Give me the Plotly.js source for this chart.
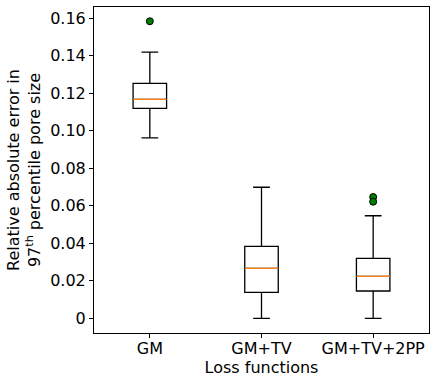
<!DOCTYPE html>
<html>
<head>
<meta charset="utf-8">
<script src="https://cdn.plot.ly/plotly-3.0.1.min.js"></script>
<style>html,body{margin:0;padding:0;background:#fff;}#chart{width:435px;height:381px;}</style>
</head>
<body>
<div id="chart"></div>
<script>
// ---- data ----
const categories = ["GM", "GM+TV", "GM+TV+2PP"];
const positions = [1, 2, 3];
const lowerWhisker = [0.0962, 0.0, 0.0];
const q1 = [0.1120, 0.0139, 0.0146];
const medians = [0.1168, 0.0267, 0.0224];
const q3 = [0.1253, 0.0384, 0.0320];
const upperWhisker = [0.1419, 0.0699, 0.0547];
const outlierX = [1, 3, 3];
const outlierY = [0.1584, 0.0647, 0.0622];
const yTickVals = [0, 0.02, 0.04, 0.06, 0.08, 0.10, 0.12, 0.14, 0.16];
const yTickText = ["0", "0.02", "0.04", "0.06", "0.08", "0.10", "0.12", "0.14", "0.16"];

// ---- styles ----
const FONT = "DejaVu Sans, sans-serif";
const boxWidth = 0.3;

const traces = [];
traces.push({
  type: "box",
  x: positions,
  q1: q1,
  median: medians,
  q3: q3,
  lowerfence: lowerWhisker,
  upperfence: upperWhisker,
  width: boxWidth,
  whiskerwidth: 0.5,
  fillcolor: "white",
  line: {color: "black", width: 1.3},
  boxpoints: false,
  hoverinfo: "skip",
  showlegend: false
});
// orange median lines drawn over the boxes
positions.forEach((p, i) => {
  traces.push({
    type: "scatter",
    mode: "lines",
    x: [p - boxWidth / 2, p + boxWidth / 2],
    y: [medians[i], medians[i]],
    line: {color: "#ff7f0e", width: 1.3},
    hoverinfo: "skip",
    showlegend: false
  });
});
traces.push({
  type: "scatter",
  mode: "markers",
  x: outlierX,
  y: outlierY,
  marker: {color: "green", size: 7, line: {color: "black", width: 1}},
  hoverinfo: "skip",
  showlegend: false
});

const layout = {
  width: 435,
  height: 381,
  margin: {l: 94, r: 6, t: 7, b: 48},
  paper_bgcolor: "white",
  plot_bgcolor: "white",
  font: {family: FONT, size: 16, color: "black"},
  showlegend: false,
  xaxis: {
    range: [0.5, 3.5],
    tickvals: positions,
    ticktext: categories,
    ticks: "outside",
    ticklen: 4,
    tickwidth: 1,
    tickcolor: "black",
    ticklabelstandoff: -3,
    showgrid: false,
    zeroline: false,
    showline: true,
    linecolor: "black",
    linewidth: 1,
    mirror: true,
    tickfont: {family: FONT, size: 16, color: "black"},
    title: {text: "Loss functions", font: {family: FONT, size: 16, color: "black"}, standoff: 0}
  },
  yaxis: {
    range: [-0.0078, 0.166],
    tickvals: yTickVals,
    ticktext: yTickText,
    ticks: "outside",
    ticklen: 4,
    tickwidth: 1,
    tickcolor: "black",
    showgrid: false,
    zeroline: false,
    showline: true,
    linecolor: "black",
    linewidth: 1,
    mirror: true,
    tickfont: {family: FONT, size: 16, color: "black"},
    title: {text: "Relative absolute error in<br>97<sup>th</sup> percentile pore size", font: {family: FONT, size: 16, color: "black"}, standoff: 5}
  }
};

Plotly.newPlot("chart", traces, layout, {staticPlot: true, displayModeBar: false});
</script>
</body>
</html>
